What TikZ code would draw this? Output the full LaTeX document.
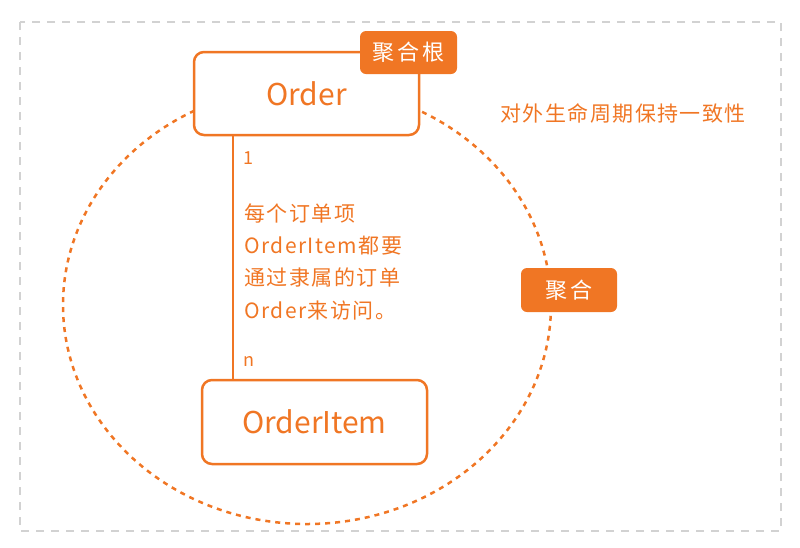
\documentclass[tikz,border=0pt]{standalone}
\usepackage{fontspec}
\newfontfamily\cjk{Noto Sans CJK SC}
\newfontfamily\cjksp[LetterSpace=7]{Noto Sans CJK SC}
\newfontfamily\cjktag[LetterSpace=14]{Noto Sans CJK SC}
\definecolor{org}{RGB}{240,118,36}
\definecolor{framegray}{RGB}{210,210,210}
\begin{document}
\begin{tikzpicture}[x=1pt,y=-1pt,
  box/.style={draw=org, line width=2.5pt, rounded corners=10pt, fill=white, inner sep=0pt,
    text=org, font=\cjk\fontsize{30}{30}\selectfont},
  tag/.style={fill=org, rounded corners=6pt, text=white, inner sep=0pt,
    font=\cjktag\fontsize{22}{22}\selectfont},
  txt/.style={text=org, inner sep=0pt, font=\cjksp\fontsize{21}{32.3}\selectfont},
  small/.style={text=org, inner sep=0pt, font=\cjk\fontsize{18}{18}\selectfont},
]
\useasboundingbox (0,0) rectangle (800,547);
\draw[framegray, line width=1.5pt, dash pattern=on 8pt off 7pt] (20,22) rectangle (781,531);
\draw[org, line width=2.5pt, dash pattern=on 5pt off 5pt] (307,305) ellipse [x radius=244pt, y radius=219pt];

\node[box, minimum width=225pt, minimum height=83pt] (order) at (306.5,93.5) {Order};
\node[tag, minimum width=97pt, minimum height=43pt] (root) at (408.5,52.5) {聚合根};
\node[box, minimum width=225pt, minimum height=84pt] (item) at (314.5,422) {OrderItem};
\node[tag, minimum width=96pt, minimum height=44pt] (agg) at (569,290) {聚合};

\coordinate (lx) at (233,0);
\draw[org, line width=2pt] (order.south -| lx) -- (item.north -| lx);

\node[small, anchor=west] (one) at (243,158) {1};
\node[small, anchor=west] (many) at (243,361) {n};
\node[txt, anchor=base west, align=left] (desc) at (244,318)
  {每个订单项\\OrderItem都要\\通过隶属的订单\\Order来访问。};
\node[txt, anchor=west] (life) at (500,113) {对外生命周期保持一致性};
\end{tikzpicture}
\end{document}
